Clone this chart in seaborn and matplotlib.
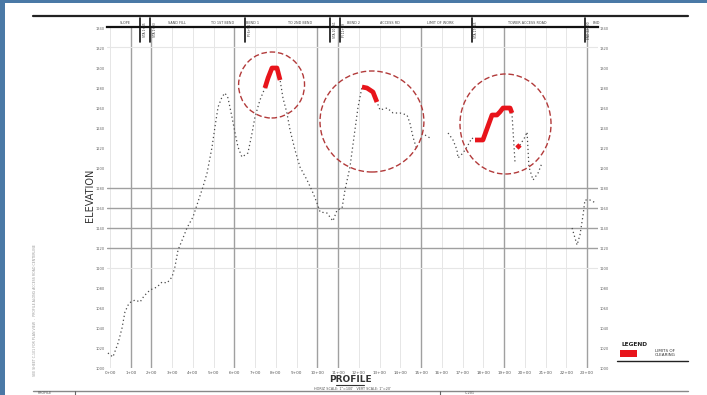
import matplotlib
matplotlib.use("Agg")
import matplotlib.pyplot as plt
import numpy as np
import pandas as pd
import seaborn as sns
from matplotlib.patches import Ellipse, Rectangle
from matplotlib.lines import Line2D

# ---------------- data ----------------
profile_sta = [-0.10, 0.14, 0.39, 0.58, 0.72, 0.92, 1.21, 1.45, 1.64, 1.93, 2.27, 2.51, 2.75, 2.99,
               3.13, 3.28, 3.52, 3.71, 4.00, 4.24, 4.48, 4.68, 4.92, 5.06, 5.21, 5.40, 5.54, 5.69,
               5.88, 6.03, 6.17, 6.36, 6.51, 6.65, 6.85, 6.99, 7.23, 7.47, 7.62, 7.81, 8.05, 8.20,
               8.34, 8.53, 8.68, 8.92, 9.16, 9.50, 9.79, 9.98, 10.13, 10.46, 10.75, 10.95, 11.19,
               11.33, 11.57, 11.81, 11.96, 12.15, 12.39, 12.68, 12.87, 13.02, 13.36, 13.65, 13.98,
               14.32, 14.46, 14.61, 14.80,
               15.19, 15.43,
               16.30, 16.54, 16.73, 16.78, 17.02, 17.21, 17.45, 17.60, 17.98, 18.42, 18.66, 18.80,
               18.95, 19.29, 19.38, 19.53,
               19.62, 19.77, 20.01, 20.11, 20.20, 20.40, 20.64, 20.83,
               22.28, 22.42, 22.52, 22.66, 22.81, 22.90, 23.14, 23.43]
profile_elev = [1015, 1011, 1025, 1040, 1056, 1065, 1068, 1066, 1072, 1078, 1081, 1086, 1085, 1091,
                1101, 1118, 1130, 1140, 1151, 1166, 1181, 1195, 1221, 1241, 1261, 1271, 1275, 1270,
                1251, 1235, 1221, 1211, 1213, 1215, 1235, 1251, 1268, 1280, 1290, 1300, 1300, 1288,
                1270, 1255, 1238, 1218, 1201, 1188, 1175, 1165, 1156, 1155, 1147, 1158, 1160,
                1178, 1201, 1238, 1261, 1281, 1280, 1276, 1266, 1258, 1260, 1255, 1255,
                1253, 1245, 1231, 1218,
                1233, 1230,
                1235, 1228, 1218, 1210, 1215, 1221, 1230, 1228, 1228, 1253, 1253, 1256,
                1260, 1260, 1255, 1205,
                1220, 1223, 1231, 1236, 1201, 1188, 1195, 1205,
                1140, 1130, 1123, 1133, 1153, 1168, 1168, 1165]
profile_seg = [0] * 71 + [1] * 2 + [2] * 16 + [3] * 8 + [4] * 8

clearing_sta = [7.47, 7.62, 7.81, 8.05, 8.20,
                12.15, 12.39, 12.68, 12.87,
                17.60, 17.98, 18.42, 18.66, 18.80, 18.95, 19.29, 19.38,
                19.62, 19.77]
clearing_elev = [1280, 1290, 1300, 1300, 1288,
                 1281, 1280, 1276, 1266,
                 1228, 1228, 1253, 1253, 1256, 1260, 1260, 1255,
                 1220, 1223]
clearing_seg = [0] * 5 + [1] * 4 + [2] * 8 + [3] * 2

circle_sta = [7.79, 12.63, 19.07]
circle_elev = [1283, 1246.5, 1244]
circle_w = [3.18, 5.01, 4.39]
circle_h = [66, 101, 100]

station_ticks = list(range(0, 24))
station_labels = [f"{s}+00" for s in station_ticks]
elev_ticks = list(range(1000, 1341, 20))
major_sta = [1, 2, 6, 10, 11, 15, 19, 23]
grid_elev_dark = [1180, 1160, 1140, 1120]
grid_elev_light = [1321, 1100]

marker_sta = [1.45, 1.93, 6.51, 10.61, 11.09, 17.45, 22.90]
marker_text = ["STA 1+45", "STA 1+93", "PI 6+51", "STA 10+61", "PI 11+09", "STA 17+45", "END 22+90"]
band_sta = [0.72, 3.23, 5.45, 6.85, 9.16, 11.72, 13.5, 15.91, 20.11, 23.45]
band_text = ["SLOPE", "SAND FILL", "TO 1ST BEND", "BEND 1", "TO 2ND BEND", "BEND 2",
             "ACCESS RD", "LIMIT OF WORK", "TOWER ACCESS ROAD", "END"]

prof = pd.DataFrame({"sta": profile_sta, "elev": profile_elev, "seg": profile_seg})
clr = pd.DataFrame({"sta": clearing_sta, "elev": clearing_elev, "seg": clearing_seg})

# ---------------- figure ----------------
sns.set_theme(style="white")
plt.rcParams["font.family"] = ["DejaVu Sans"]

W, H = 707, 395
fig = plt.figure(figsize=(W / 100, H / 100), dpi=100)
fig.patch.set_facecolor("#4a79a6")
# white page
page = Rectangle((5 / W, 0), 1, 1 - 3 / H, transform=fig.transFigure,
                 facecolor="white", edgecolor="none", zorder=-10)
fig.patches.append(page)
# top and bottom frame lines
fig.add_artist(Line2D([33 / W, 688 / W], [1 - 16 / H, 1 - 16 / H], color="#222222", lw=1.6))
fig.add_artist(Line2D([33 / W, 688 / W], [1 - 391 / H, 1 - 391 / H], color="#888888", lw=1.0))
fig.add_artist(Line2D([75 / W, 75 / W], [1 - 391 / H, 1 - 395 / H], color="#666666", lw=0.8))
fig.add_artist(Line2D([440 / W, 440 / W], [1 - 391 / H, 1 - 395 / H], color="#666666", lw=0.8))

ax = fig.add_axes([107 / W, 1 - 368 / H, (598 - 107) / W, (368 - 27) / H])
ax.set_zorder(5)
ax.set_facecolor("none")
ax.patch.set_alpha(0)

# grid lines
for s in station_ticks:
    dark = s in major_sta
    ax.axvline(s, color="#a0a0a0" if dark else "#e6e6e6", lw=1.0 if dark else 0.7, zorder=1)
for e in grid_elev_dark:
    ax.axhline(e, color="#a0a0a0", lw=1.0, zorder=1)
for e in grid_elev_light:
    ax.axhline(e, color="#e6e6e6", lw=0.8, zorder=1)

# profile
sns.lineplot(data=prof, x="sta", y="elev", units="seg", estimator=None, sort=False,
             color="#4a4a4a", lw=0.9, linestyle=(0, (1, 2.2)), ax=ax, zorder=3, legend=False)
# clearing limits (red)
sns.lineplot(data=clr, x="sta", y="elev", units="seg", estimator=None, sort=False,
             color="#e8141b", lw=3.4, ax=ax, zorder=4, legend=False, solid_capstyle="butt")

# circles
for cx, cy, w, h in zip(circle_sta, circle_elev, circle_w, circle_h):
    ax.add_patch(Ellipse((cx, cy), w, h, fill=False, edgecolor="#b23a3a",
                         lw=1.0, linestyle=(0, (4, 2)), zorder=5))

ax.set_xlim(-0.145, 23.53)
ax.set_ylim(1000, 1341)

# axes styling
for side in ["left", "right", "bottom"]:
    ax.spines[side].set_visible(False)
ax.spines["top"].set_visible(True)
ax.spines["top"].set_color("#111111")
ax.spines["top"].set_linewidth(1.6)
ax.set_xticks(station_ticks)
ax.set_xticklabels(station_labels)
ax.set_yticks(elev_ticks)
ax.set_yticklabels([str(e) for e in elev_ticks])
ax.tick_params(axis="x", length=0, pad=2, labelsize=3.0, colors="#555555")
ax.tick_params(axis="y", length=0, pad=1.5, labelsize=2.6, colors="#666666",
               labelleft=True, labelright=True)
ax.set_xlabel("")
ax.set_ylabel("")

# top band annotations
for s, t in zip(marker_sta, marker_text):
    ax.plot([s, s], [1326, 1350], color="#111111", lw=1.2, clip_on=False, zorder=6)
    ax.text(s + 0.12, 1338, t, rotation=90, fontsize=2.2, color="#333333",
            ha="left", va="center", clip_on=False)
for s, t in zip(band_sta, band_text):
    ax.text(s, 1343, t, fontsize=2.4, color="#444444", ha="center", va="bottom",
            clip_on=False)

# axis titles
fig.text(90 / W, 1 - 195 / H, "ELEVATION", rotation=90, fontsize=7, color="#333333",
         ha="center", va="center")
fig.text(350 / W, 1 - 380 / H, "PROFILE", fontsize=6.5, color="#333333", ha="center",
         va="center", fontweight="bold")
fig.add_artist(Line2D([336 / W, 364 / W], [1 - 385 / H, 1 - 385 / H], color="#333333", lw=0.8))
fig.text(352 / W, 1 - 388.5 / H, "HORIZ SCALE: 1\"=100'   VERT SCALE: 1\"=20'",
         fontsize=2.4, color="#555555", ha="center", va="center")

# legend
fig.text(622 / W, 1 - 344 / H, "LEGEND", fontsize=4.2, color="#222222", ha="left",
         va="center", fontweight="bold")
fig.add_artist(Rectangle((620 / W, 1 - 357 / H), 17 / W, 7 / H, transform=fig.transFigure,
                         facecolor="#e8141b", edgecolor="none"))
fig.text(655 / W, 1 - 352.5 / H, "LIMITS OF\nCLEARING", fontsize=3.0, color="#333333",
         ha="left", va="center", linespacing=1.0)
fig.add_artist(Line2D([617 / W, 688 / W], [1 - 360.5 / H, 1 - 360.5 / H], color="#222222", lw=1.0))

# left title-block text
fig.text(35 / W, 1 - 310 / H, "SEE SHEET C-101 FOR PLAN VIEW  -  PROFILE ALONG ACCESS ROAD CENTERLINE",
         rotation=90, fontsize=2.3, color="#999999", ha="center", va="center")
fig.text(45 / W, 1 - 393.5 / H, "PROFILE", fontsize=2.4, color="#555555", ha="center", va="center")
fig.text(470 / W, 1 - 393.5 / H, "C-201", fontsize=2.4, color="#555555", ha="center", va="center")

fig.savefig("out.png", dpi=100, facecolor=fig.get_facecolor())
